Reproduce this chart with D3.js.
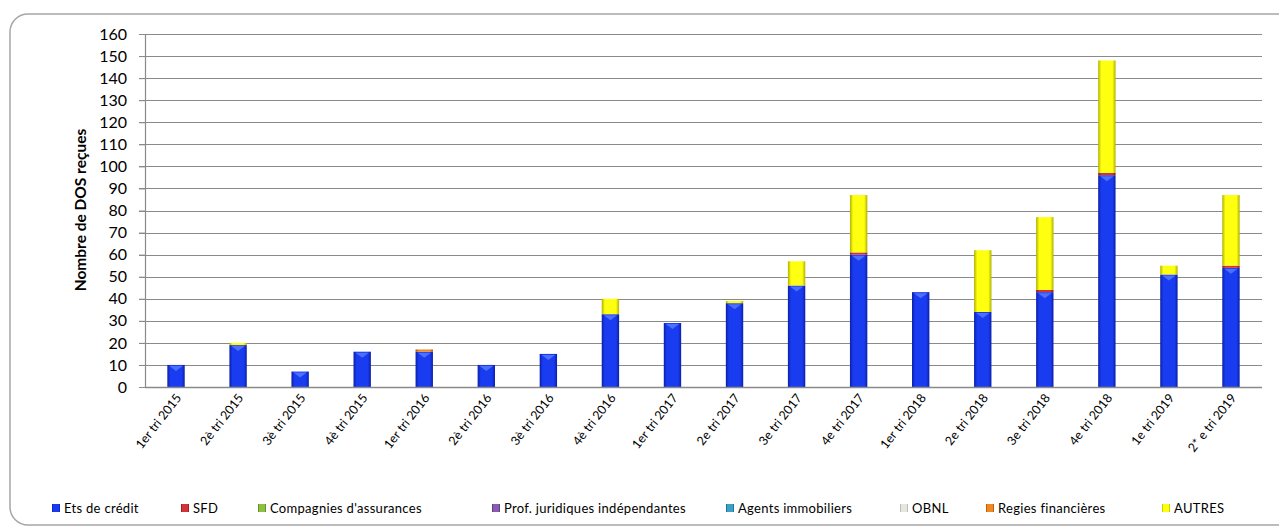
<!DOCTYPE html>
<html>
<head>
<meta charset="utf-8">
<script src="https://cdn.jsdelivr.net/npm/d3@7"></script>
<style>
  body { margin: 0; background: #fff; }
  svg text { font-family: Lato, "Open Sans", sans-serif; fill: #000; }
</style>
</head>
<body>
<script>
// quarters on the x axis
var categories = ["1er tri 2015", "2è tri 2015", "3è tri 2015", "4è tri 2015", "1er tri 2016",
  "2è tri 2016", "3è tri 2016", "4è tri 2016", "1er tri 2017", "2e tri 2017", "3e tri 2017",
  "4e tri 2017", "1er tri 2018", "2e tri 2018", "3e tri 2018", "4e tri 2018", "1e tri 2019", "2* e tri 2019"];

// one array per declaring sector
var etsCredit   = [10, 19, 7, 16, 16, 10, 15, 33, 29, 38, 46, 60, 43, 34, 43, 96, 51, 54];
var sfd         = [0, 0, 0, 0, 0, 0, 0, 0, 0, 0, 0, 1, 0, 0, 1, 1, 0, 1];
var assurances  = [0, 0, 0, 0, 0, 0, 0, 0, 0, 0, 0, 0, 0, 0, 0, 0, 0, 0];
var profJur     = [0, 0, 0, 0, 0, 0, 0, 0, 0, 0, 0, 0, 0, 0, 0, 0, 0, 0];
var agentsImmo  = [0, 0, 0, 0, 0, 0, 0, 0, 0, 0, 0, 0, 0, 0, 0, 0, 0, 0];
var obnl        = [0, 0, 0, 0, 0, 0, 0, 0, 0, 0, 0, 0, 0, 0, 0, 0, 0, 0];
var regies      = [0, 0, 0, 0, 1, 0, 0, 0, 0, 0, 0, 0, 0, 0, 0, 0, 0, 0];
var autres      = [0, 1, 0, 0, 0, 0, 0, 7, 0, 1, 11, 26, 0, 28, 33, 51, 4, 32];

var seriesNames = ["Ets de crédit", "SFD", "Compagnies d'assurances", "Prof. juridiques indépendantes",
  "Agents immobiliers", "OBNL", "Regies financières", "AUTRES"];
var seriesValues = [etsCredit, sfd, assurances, profJur, agentsImmo, obnl, regies, autres];
var yTicks = d3.range(0, 161, 10);

// colours: [edge, mid]
var colors = [["#0a1fa8", "#1a3cf0"], ["#8a1418", "#d2343a"], ["#4f7a1c", "#8cc040"], ["#4d2c6e", "#8a5cb0"],
  ["#1a5e7c", "#3aa0c8"], ["#a8a8a0", "#e6e6e0"], ["#a04a08", "#f08a20"], ["#b0b000", "#ffff10"]];
var legendX = [52, 181, 258, 492, 726, 900, 986, 1162];

var width = 1279, height = 526;
var svg = d3.select("body").append("svg")
  .attr("width", width)
  .attr("height", height);

var defs = svg.append("defs");
colors.forEach(function(c, i){
  var g = defs.append("linearGradient").attr("id", "grad" + i)
    .attr("x1", "0").attr("x2", "1").attr("y1", "0").attr("y2", "0");
  g.append("stop").attr("offset", "0").attr("stop-color", c[0]);
  g.append("stop").attr("offset", "0.18").attr("stop-color", c[1]);
  g.append("stop").attr("offset", "0.82").attr("stop-color", c[1]);
  g.append("stop").attr("offset", "1").attr("stop-color", c[0]);
});

// outer frame (cut by the window on the right and bottom)
svg.append("rect")
  .attr("x", 10).attr("y", 14)
  .attr("width", 1300).attr("height", 511)
  .attr("rx", 18).attr("ry", 18)
  .attr("fill", "none")
  .attr("stroke", "#a6a6a6")
  .attr("stroke-width", 1.5);

var x = d3.scaleBand()
  .domain(categories)
  .range([145, 1262])
  .paddingInner(0.72)
  .paddingOuter(0.36);

var y = d3.scaleLinear()
  .domain([0, 160])
  .range([387, 34]);

// gridlines
svg.append("g").selectAll("line")
  .data(yTicks)
  .enter().append("line")
  .attr("x1", 139).attr("x2", 1262)
  .attr("y1", function(d){ return Math.round(y(d)) + 0.5; })
  .attr("y2", function(d){ return Math.round(y(d)) + 0.5; })
  .attr("stroke", "#8a8a8a")
  .attr("stroke-width", 1.2);

// y axis
var yAxis = svg.append("g")
  .attr("transform", "translate(145,0)")
  .call(d3.axisLeft(y).tickValues(yTicks).tickSize(6).tickPadding(12));
yAxis.select(".domain").attr("stroke", "#8a8a8a").attr("stroke-width", 1.2);
yAxis.selectAll(".tick line").attr("stroke", "#8a8a8a");
yAxis.selectAll("text").attr("font-size", 16).attr("fill", "#000")
  .style("font-family", "Lato, sans-serif");

svg.append("text")
  .attr("transform", "translate(86,210) rotate(-90)")
  .attr("text-anchor", "middle")
  .attr("font-size", 15.5)
  .attr("font-weight", "bold")
  .text("Nombre de DOS reçues");

// stacked bars
var rows = categories.map(function(c, i){
  var r = { cat: c };
  seriesNames.forEach(function(s, j){ r[s] = seriesValues[j][i]; });
  return r;
});
var stack = d3.stack().keys(seriesNames)(rows);

var layers = svg.append("g").selectAll("g")
  .data(stack)
  .enter().append("g")
  .attr("fill", function(d, i){ return "url(#grad" + i + ")"; });

layers.selectAll("rect")
  .data(function(d){ return d.filter(function(p){ return p[1] - p[0] > 0; }); })
  .enter().append("rect")
  .attr("x", function(d){ return x(d.data.cat); })
  .attr("width", x.bandwidth())
  .attr("y", function(d){ return y(d[1]); })
  .attr("height", function(d){ return y(d[0]) - y(d[1]); });

// light cap on top of the blue segments
svg.append("g").selectAll("path")
  .data(stack[0])
  .enter().append("path")
  .attr("d", function(d){
    var x0 = x(d.data.cat) + 2, x1 = x(d.data.cat) + x.bandwidth() - 2, yt = y(d[1]) + 1;
    return "M" + x0 + "," + yt + "L" + x1 + "," + yt + "L" + (x0 + x1) / 2 + "," + (yt + 5) + "Z";
  })
  .attr("fill", "#5a7cff")
  .attr("opacity", 0.8);

// x axis line
svg.append("line")
  .attr("x1", 145).attr("x2", 1262)
  .attr("y1", Math.round(y(0)) + 0.5).attr("y2", Math.round(y(0)) + 0.5)
  .attr("stroke", "#8a8a8a").attr("stroke-width", 1.5);

svg.append("g").selectAll("text")
  .data(categories)
  .enter().append("text")
  .attr("transform", function(d){
    return "translate(" + (x(d) + x.bandwidth() / 2 + 6) + ",398) rotate(-52)";
  })
  .attr("text-anchor", "end")
  .attr("font-size", 12.5)
  .text(function(d){ return d; });

// legend
var legend = svg.append("g").selectAll("g")
  .data(seriesNames)
  .enter().append("g")
  .attr("transform", function(d, i){ return "translate(" + legendX[i] + ",504)"; });
legend.append("rect")
  .attr("width", 8).attr("height", 8)
  .attr("fill", function(d, i){ return "url(#grad" + i + ")"; });
legend.append("text")
  .attr("x", 12).attr("y", 8.5)
  .attr("font-size", 13)
  .attr("letter-spacing", 0.3)
  .text(function(d){ return d; });
</script>
</body>
</html>
